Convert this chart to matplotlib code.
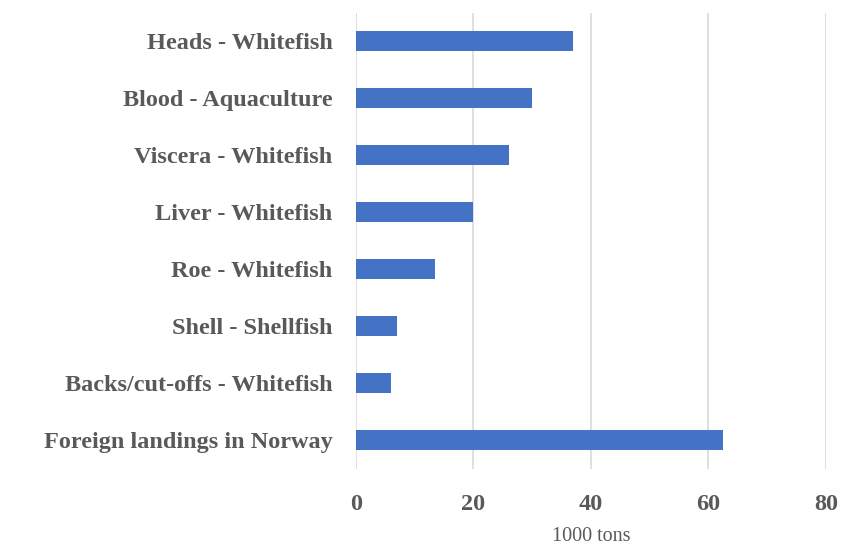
import matplotlib.pyplot as plt

categories = ['Heads - Whitefish', 'Blood - Aquaculture', 'Viscera - Whitefish',
              'Liver - Whitefish', 'Roe - Whitefish', 'Shell - Shellfish',
              'Backs/cut-offs - Whitefish', 'Foreign landings in Norway']
values = [37, 30, 26, 20, 13.5, 7, 6, 62.5]
xticks = [0, 20, 40, 60, 80]

fig = plt.figure(figsize=(8.45, 5.47), dpi=100)
ax = fig.add_axes([0.4213, 0.1435, 0.5562, 0.8335])

# first category on top
ypos = list(range(len(categories)))[::-1]
ax.barh(ypos, values, height=0.36, color='#4472C4', zorder=3)

ax.set_ylim(-0.5, len(categories) - 0.5)
ax.set_xlim(0, 80)
ax.set_xticks(xticks)
ax.set_yticks(ypos)
ax.set_yticklabels(categories)

for lab in ax.get_yticklabels() + ax.get_xticklabels():
    lab.set_family('Liberation Serif')
    lab.set_fontweight('bold')
    lab.set_fontsize(17.5)
    lab.set_color('#595959')

ax.tick_params(axis='both', length=0)
ax.tick_params(axis='y', pad=17)
ax.tick_params(axis='x', pad=18)

ax.grid(axis='x', color='#d9d9d9', linewidth=1.2, zorder=0)
for s in ax.spines.values():
    s.set_visible(False)

ax.set_xlabel('1000 tons', family='Liberation Serif', fontsize=14.5,
              color='#595959', labelpad=9)

fig.savefig('out.png', dpi=100)
